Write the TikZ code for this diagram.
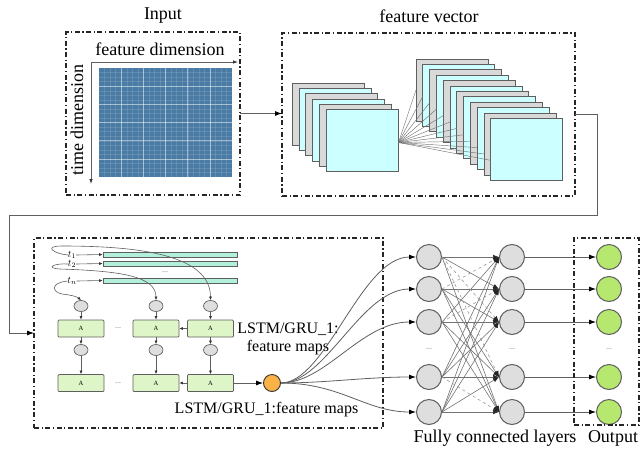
\documentclass[tikz,border=0pt]{standalone}
\usepackage{fontspec}
\setmainfont{Liberation Serif}
\usetikzlibrary{arrows.meta,calc,shapes.geometric}

\definecolor{gridblue}{RGB}{74,123,164}
\definecolor{fmgray}{RGB}{217,217,217}
\definecolor{fmcyan}{RGB}{204,255,255}
\definecolor{edgegray}{RGB}{95,95,95}
\definecolor{barmint}{RGB}{178,240,218}
\definecolor{cellgreen}{RGB}{222,245,200}
\definecolor{nodegray}{RGB}{222,222,222}
\definecolor{outgreen}{RGB}{182,232,112}
\definecolor{huborange}{RGB}{248,178,72}

\begin{document}
\begin{tikzpicture}[x=1pt,y=-1pt,
  dbox/.style={draw=black!85, line width=1.1pt, dash pattern=on 5pt off 2.5pt on 1.3pt off 2.5pt,
               inner sep=0pt, outer sep=0pt},
  biglbl/.style={font=\fontsize{18}{20}\selectfont, inner sep=0pt},
  midlbl/.style={font=\fontsize{16}{18}\selectfont, inner sep=0pt},
  fmap/.style={draw=edgegray, line width=0.8pt, anchor=north west, minimum width=72pt,
               minimum height=62pt, inner sep=0pt, outer sep=0pt},
  conn/.style={draw=edgegray, line width=0.8pt, -{Latex[length=7pt,width=5pt,color=black]}},
  plain/.style={draw=edgegray, line width=0.8pt},
  smallarr/.style={draw=edgegray, line width=0.6pt, -{Latex[length=3.5pt,width=3pt,color=black!80]}},
  bar/.style={draw=edgegray, line width=0.7pt, fill=barmint, minimum width=134pt, minimum height=5pt,
              inner sep=0pt},
  cell/.style={draw=edgegray, line width=0.7pt, fill=cellgreen, rounded corners=1pt,
               minimum width=46pt, minimum height=17pt, inner sep=0pt,
               font=\fontsize{6.5}{6.5}\selectfont},
  gate/.style={ellipse, draw=edgegray, line width=0.7pt, fill=nodegray, minimum width=14pt,
               minimum height=11pt, inner sep=0pt},
  neuron/.style={circle, draw=edgegray, line width=1pt, fill=nodegray, minimum size=25pt, inner sep=0pt},
  outneuron/.style={neuron, fill=outgreen},
  fcedge/.style={draw=black!55, line width=0.6pt, -{Latex[length=6pt,width=4.5pt,color=black!85]}},
  fcdash/.style={fcedge, draw=black!40, dashed},
  tlbl/.style={font=\fontsize{10}{10}\selectfont, inner sep=0pt},
  dots/.style={font=\fontsize{8}{8}\selectfont, text=black!55, inner sep=0pt}
]
\useasboundingbox (0,0) rectangle (641,459);

% ---------- input matrix ----------
\node[biglbl] (inlbl) at (163,16) {Input};
\node[dbox, minimum width=174pt, minimum height=163pt] (inbox) at (153,113.5) {};
\fill[gridblue] (99,68) rectangle (232,177);
\foreach \k in {1,...,23} {
  \draw[white, opacity=0.12, line width=0.3pt] ({99+133*\k/24},68) -- ({99+133*\k/24},177);
  \draw[white, opacity=0.12, line width=0.3pt] (99,{68+109*\k/24}) -- (232,{68+109*\k/24});
}
\foreach \k in {1,...,5} {
  \draw[white, opacity=0.45, line width=0.6pt] ({99+133*\k/6},68) -- ({99+133*\k/6},177);
  \draw[white, opacity=0.45, line width=0.6pt] (99,{68+109*\k/6}) -- (232,{68+109*\k/6});
}
\coordinate (origin) at (91,62);
\coordinate (fdimend) at (238,62);
\coordinate (tdimend) at (91,184);
\draw[plain, -{Latex[length=5pt,width=3.5pt,color=black!80]}] (origin) -- (fdimend);
\draw[plain, -{Latex[length=5pt,width=3.5pt,color=black!80]}] (origin) -- (tdimend);
\node[biglbl] (fdim) at (160,49) {feature dimension};
\node[biglbl, rotate=90] (tdim) at (77,120) {time dimension};

% ---------- feature maps ----------
\node[biglbl] (fvlbl) at (429,16) {feature vector};
\node[dbox, minimum width=293pt, minimum height=163pt] (fbox) at (428.5,114.5) {};
\foreach \i/\c in {0/fmgray,1/fmcyan,2/fmgray,3/fmcyan,4/fmgray,5/fmcyan}
  \node[fmap, fill=\c] (l\i) at ({292+6.9*\i},{83+5.3*\i}) {};
\foreach \i/\c in {0/fmgray,1/fmcyan,2/fmgray,3/fmcyan,4/fmgray,5/fmcyan,
                   6/fmgray,7/fmcyan,8/fmgray,9/fmcyan,10/fmgray,11/fmcyan}
  \node[fmap, fill=\c] (r\i) at ({416+6.8*\i},{59+5.4*\i}) {};
\foreach \i in {0,...,11}
  \draw[black!55, line width=0.45pt] ($(l5.north east)+(0,33)$) -- ($(r\i.north west)+(0,{31+\i})$);

% ---------- top connectors ----------
\draw[conn] (inbox.east) -- (inbox.east -| fbox.west);
\coordinate (bendA) at (597,114.5);
\coordinate (bendB) at (597,215);
\coordinate (bendC) at (9,215);

% ---------- recurrent block ----------
\node[dbox, minimum width=349pt, minimum height=190pt] (lbox) at (208.5,333) {};
\draw[conn] (fbox.east) -- (bendA) -- (bendB) -- (bendC) |- (lbox.west);

\node[bar] (bar1) at (170,254.5) {};
\node[bar] (bar2) at (170,263.5) {};
\node[bar] (barn) at (170,280.5) {};
\node[dots] (bardots) at (165,272) {...};
\node[tlbl] (t1) at (72,255) {$t_1$};
\node[tlbl] (t2) at (72,264) {$t_2$};
\node[tlbl] (tn) at (72,281) {$t_n$};
\draw[smallarr] (t1.east) -- (bar1.west);
\draw[smallarr] (t2.east) -- (bar2.west);
\draw[smallarr] (tn.east) -- (barn.west);

\foreach \n/\x in {1/81,2/156,3/210.5} {
  \node[gate] (ga\n) at (\x,306) {};
  \node[cell] (ca\n) at (\x,328.5) {A};
  \node[gate] (gb\n) at (\x,350) {};
  \node[cell] (cb\n) at (\x,383) {A};
  \draw[smallarr] (ga\n.south) -- (ca\n.north);
  \draw[smallarr] (ca\n.south) -- (gb\n.north);
  \draw[smallarr] (gb\n.south) -- (cb\n.north);
}
\draw[smallarr] (ca3.west) -- (ca2.east);
\draw[smallarr] (cb3.west) -- (cb2.east);
\node[dots] (rowdotsa) at (118,328.5) {...};
\node[dots] (rowdotsb) at (118,383) {...};

\draw[smallarr] (t1.west) .. controls (55,254) and (42,246) .. (62,246)
                .. controls (140,246) and (210.5,255) .. (ga3.north);
\draw[smallarr] (t2.west) .. controls (55,263) and (44,268) .. (60,269)
                .. controls (120,271) and (156,276) .. (ga2.north);
\draw[smallarr] (tn.west) .. controls (50,283) and (52,292) .. (62,294)
                .. controls (70,295) and (76,296) .. (ga1.north);

\node[circle, draw=black!80, line width=0.9pt, fill=huborange, minimum size=17pt, inner sep=0pt]
  (hub) at (272,383) {};
\draw[conn] (cb3.east) -- (hub.west);

\node[midlbl] (fmlbl1) at (288,329) {LSTM/GRU\_1:};
\node[midlbl] (fmlbl2) at (288,348) {feature maps};
\node[midlbl] (fmlbl3) at (266.5,410) {LSTM/GRU\_1:feature maps};

% ---------- fully connected layers ----------
\foreach \n/\y in {1/257,2/289,3/322,4/377,5/412} {
  \node[neuron] (f\n) at (429,\y) {};
  \node[neuron] (g\n) at (512,\y) {};
  \node[outneuron] (o\n) at (609,\y) {};
}
\node[dots] (fdots) at (429,349) {...};
\node[dots] (gdots) at (512,349) {...};
\node[dots] (odots) at (609,349) {...};

\draw[conn] (hub.east) .. controls +(45,0) and +(-55,0) .. (f1.west);
\draw[conn] (hub.east) .. controls +(45,0) and +(-55,0) .. (f2.west);
\draw[conn] (hub.east) .. controls +(45,0) and +(-55,0) .. (f3.west);
\draw[conn] (hub.east) .. controls +(45,0) and +(-50,0) .. (f4.west);
\draw[conn] (hub.east) .. controls +(60,0) and +(-50,0) .. (f5.west);

\foreach \i/\j in {1/1,1/2,1/5,2/2,2/3,2/4,2/5,3/1,3/3,3/4,3/5,4/1,4/2,4/3,4/4,5/1,5/2,5/3,5/4,5/5}
  \draw[fcedge] (f\i.east) -- (g\j.west);
\foreach \i/\j in {1/3,1/4,2/1,3/2,4/5}
  \draw[fcdash] (f\i.east) -- (g\j.west);
\foreach \n in {1,...,5}
  \draw[conn] (g\n.east) -- (o\n.west);

\node[dbox, minimum width=65pt, minimum height=187pt] (obox) at (606.5,331.5) {};
\node[biglbl] (fclbl) at (495,438) {Fully connected layers};
\node[biglbl] (outlbl) at (613,438) {Output};
\end{tikzpicture}
\end{document}
